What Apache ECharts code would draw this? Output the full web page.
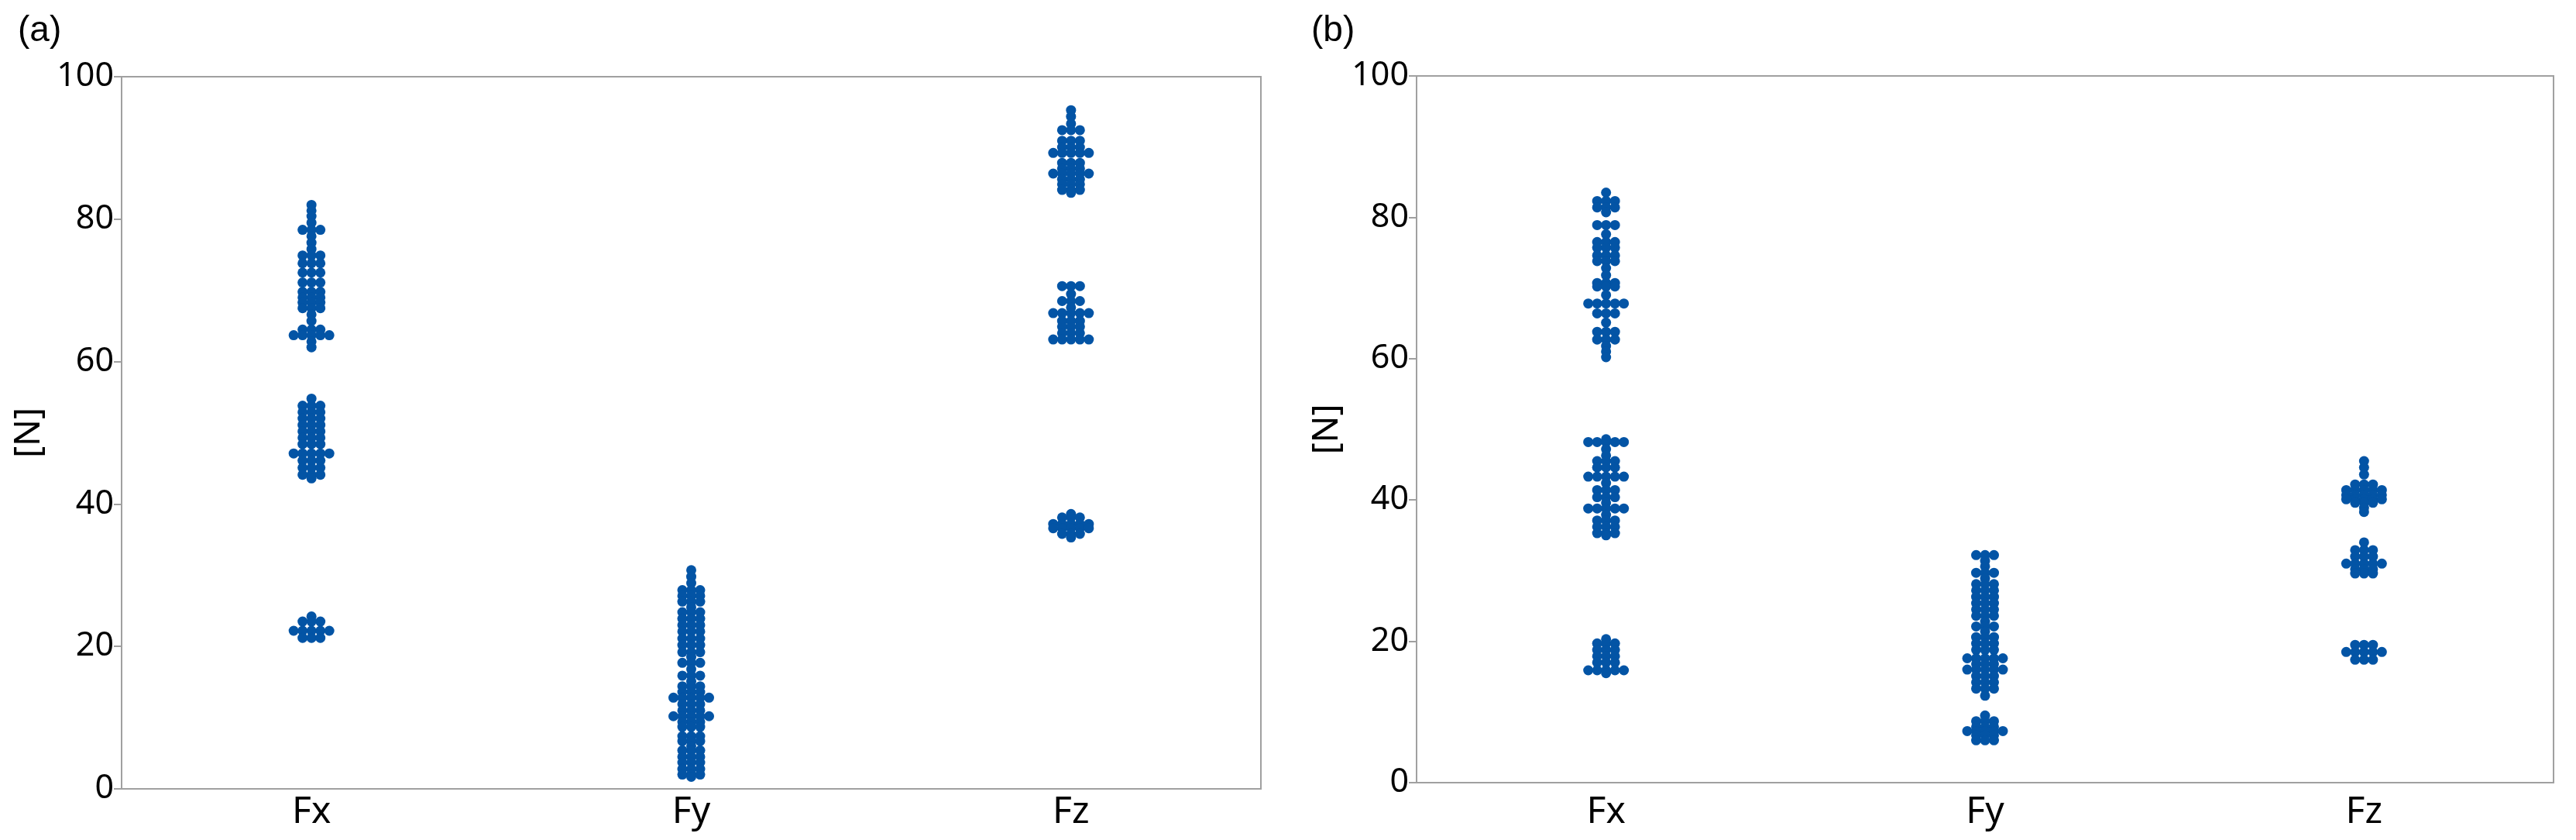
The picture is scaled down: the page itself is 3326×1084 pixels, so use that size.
<!DOCTYPE html>
<html>
<head>
<meta charset="utf-8">
<script src="https://cdn.jsdelivr.net/npm/echarts@6/dist/echarts.min.js"></script>
<style>
  html, body { margin: 0; padding: 0; background: #fff; }
  #main { width: 3326px; height: 1084px; }
</style>
</head>
<body>
<div id="main"></div>
<script>
// categories and tick labels
const categories = ['Fx', 'Fy', 'Fz'];
const yTicks = [0, 20, 40, 60, 80, 100];

// panel (a) measured forces [N], repeated values sit side by side
const fxA = [
  82.0, 81.2, 80.4, 79.5, 78.5, 78.5, 78.5, 77.6, 76.7, 75.8,
  74.9, 74.9, 74.9, 73.8, 73.8, 73.8, 72.5, 72.5, 72.5, 71.1, 71.1, 71.1,
  69.8, 69.8, 69.8, 69.0, 69.0, 69.0, 68.3, 68.3, 68.3, 67.5, 67.5, 67.5,
  66.6, 65.7, 64.5, 64.5, 64.5, 63.7, 63.7, 63.7, 63.7, 63.7, 62.8, 62.0,
  54.8, 53.8, 53.8, 53.8, 52.9, 52.9, 52.9, 52.0, 52.0, 52.0, 51.1, 51.1, 51.1,
  50.2, 50.2, 50.2, 49.3, 49.3, 49.3, 48.4, 48.4, 48.4, 47.1, 47.1, 47.1, 47.1, 47.1,
  46.1, 46.1, 46.1, 45.1, 45.1, 45.1, 44.1, 44.1, 44.1, 43.6,
  24.2, 23.5, 23.5, 23.5, 22.2, 22.2, 22.2, 22.2, 22.2, 21.2, 21.2, 21.2
];
const fyA = [
  30.7, 29.8, 28.9, 27.9, 27.9, 27.9, 27.1, 27.1, 27.1, 26.3, 26.3, 26.3, 25.5,
  24.8, 24.8, 24.8, 23.9, 23.9, 23.9, 23.0, 23.0, 23.0, 22.1, 22.1, 22.1,
  21.1, 21.1, 21.1, 20.2, 20.2, 20.2, 19.2, 19.2, 19.2, 18.5, 17.7, 17.7, 17.7,
  16.8, 15.9, 15.9, 15.9, 15.1, 14.4, 14.4, 14.4, 13.6, 13.6, 13.6,
  12.8, 12.8, 12.8, 12.8, 12.8, 11.9, 11.9, 11.9, 11.0, 11.0, 11.0,
  10.2, 10.2, 10.2, 10.2, 10.2, 9.4, 9.4, 9.4, 8.7, 8.7, 8.7,
  7.4, 7.4, 7.4, 6.7, 6.7, 6.7, 6.0, 5.4, 5.4, 5.4, 4.5, 4.5, 4.5,
  3.7, 3.7, 3.7, 2.8, 2.8, 2.8, 2.0, 2.0, 2.0, 1.7
];
const fzA = [
  95.3, 94.4, 93.4, 92.5, 92.5, 92.5, 91.0, 91.0, 91.0, 90.1, 90.1, 90.1,
  89.3, 89.3, 89.3, 89.3, 89.3, 87.9, 87.9, 87.9, 87.1, 87.1, 87.1,
  86.4, 86.4, 86.4, 86.4, 86.4, 85.6, 85.6, 85.6, 84.9, 84.9, 84.9, 84.1, 84.1, 84.1, 83.7,
  70.6, 70.6, 70.6, 69.5, 68.5, 68.5, 68.5, 67.6, 66.8, 66.8, 66.8, 66.8, 66.8,
  65.7, 65.7, 65.7, 64.9, 64.9, 64.9, 64.0, 64.0, 64.0, 63.1, 63.1, 63.1, 63.1, 63.1,
  38.6, 38.1, 38.1, 38.1, 37.2, 37.2, 37.2, 37.2, 37.2, 36.6, 36.6, 36.6, 36.6, 36.6,
  35.8, 35.8, 35.8, 35.3
];

// panel (b)
const fxB = [
  83.5, 82.3, 82.3, 82.3, 81.4, 81.4, 81.4, 80.7, 78.9, 78.9, 78.9, 77.6,
  76.5, 76.5, 76.5, 75.7, 75.7, 75.7, 74.6, 74.6, 74.6, 73.8, 73.8, 73.8, 72.8, 71.8,
  70.7, 70.7, 70.7, 70.2, 70.2, 70.2, 69.0, 67.8, 67.8, 67.8, 67.8, 67.8,
  66.4, 66.4, 66.4, 65.1, 63.8, 63.8, 63.8, 62.7, 62.7, 62.7, 61.8, 61.0, 60.2,
  48.6, 48.2, 48.2, 48.2, 48.2, 48.2, 47.2, 46.3, 45.5, 45.5, 45.5, 44.6, 44.6, 44.6,
  43.3, 43.3, 43.3, 43.3, 43.3, 42.4, 41.4, 41.4, 41.4, 40.4, 40.4, 40.4, 39.6,
  38.8, 38.8, 38.8, 38.8, 38.8, 37.9, 37.1, 37.1, 37.1, 36.2, 36.2, 36.2, 35.3, 35.3, 35.3, 35.0,
  20.3, 19.7, 19.7, 19.7, 18.8, 18.8, 18.8, 17.9, 17.9, 17.9, 17.0, 17.0, 17.0,
  15.9, 15.9, 15.9, 15.9, 15.9, 15.5
];
const fyB = [
  32.2, 32.2, 32.2, 31.4, 30.6, 29.7, 29.7, 29.7, 28.9, 28.1, 28.1, 28.1,
  27.2, 27.2, 27.2, 26.3, 26.3, 26.3, 25.4, 25.4, 25.4, 24.5, 24.5, 24.5, 23.6, 23.6, 23.6,
  22.8, 22.1, 22.1, 22.1, 21.4, 20.6, 20.6, 20.6, 19.7, 19.7, 19.7, 18.8, 18.8, 18.8,
  17.6, 17.6, 17.6, 17.6, 17.6, 16.8, 16.8, 16.8, 16.0, 16.0, 16.0, 16.0, 16.0,
  15.1, 15.1, 15.1, 14.2, 14.2, 14.2, 13.3, 13.3, 13.3, 12.3,
  9.5, 8.7, 8.7, 8.7, 7.9, 7.9, 7.9, 7.3, 7.3, 7.3, 7.3, 7.3, 6.7, 6.7, 6.7, 6.0, 6.0, 6.0
];
const fzB = [
  45.5, 44.6, 43.6, 42.2, 42.2, 42.2, 41.4, 41.4, 41.4, 41.4, 41.4,
  40.7, 40.7, 40.7, 40.7, 40.7, 40.1, 40.1, 40.1, 40.1, 40.1, 39.6, 39.6, 39.6, 38.9, 38.3,
  34.0, 32.9, 32.9, 32.9, 32.0, 32.0, 32.0, 31.0, 31.0, 31.0, 31.0, 31.0,
  30.2, 30.2, 30.2, 29.6, 29.6, 29.6,
  19.5, 19.5, 19.5, 18.5, 18.5, 18.5, 18.5, 18.5, 17.4, 17.4, 17.4
];

const DOT = '#0354a5';
const AXIS = '#a0a0a0';
const STEP = 11.5; // sideways spacing of tied points, px

// tied values go into a row: centre first, then symmetric columns
function swarm(vals, cat) {
  let counts = {};
  let order = [];
  vals.forEach(v => {
    if (!(v in counts)) { counts[v] = 0; order.push(v); }
    counts[v]++;
  });
  let out = [];
  order.forEach(v => {
    let n = counts[v];
    let cols = [];
    if (n % 2) cols.push(0);
    for (let i = 1; cols.length < n; i++) cols.push(i, -i);
    cols.forEach(c => out.push({ value: [cat, v], symbolOffset: [c * STEP, 0] }));
  });
  return out;
}

function xAxisOf(idx, margin) {
  return {
    gridIndex: idx,
    type: 'category',
    data: categories,
    axisLine: { lineStyle: { color: AXIS, width: 2 } },
    axisTick: { alignWithLabel: true, length: 10, lineStyle: { color: AXIS, width: 2 } },
    axisLabel: { margin: margin, color: '#000', fontSize: 48, fontFamily: 'Noto Sans' }
  };
}

function yAxisOf(idx, gap) {
  return {
    gridIndex: idx,
    type: 'value',
    min: yTicks[0],
    max: yTicks[yTicks.length - 1],
    interval: yTicks[1] - yTicks[0],
    name: '[N]',
    nameLocation: 'middle',
    nameGap: gap,
    nameTextStyle: { color: '#000', fontSize: 46, fontFamily: 'Noto Sans' },
    axisLine: { show: true, lineStyle: { color: AXIS, width: 2 } },
    axisTick: { show: true, length: 10, lineStyle: { color: AXIS, width: 2 } },
    axisLabel: { margin: 10, color: '#000', fontSize: 43, fontFamily: 'Noto Sans' },
    splitLine: { show: false }
  };
}

function seriesOf(idx, list) {
  let data = [];
  list.forEach((vals, c) => { data = data.concat(swarm(vals, c)); });
  return {
    type: 'scatter',
    xAxisIndex: idx,
    yAxisIndex: idx,
    symbol: 'circle',
    symbolSize: 13,
    itemStyle: { color: DOT, opacity: 1 },
    emphasis: { disabled: true },
    silent: true,
    animation: false,
    data: data
  };
}

const chart = echarts.init(document.getElementById('main'));
chart.setOption({
  animation: false,
  title: [
    { text: '(a)', left: 18, top: 12, textStyle: { fontSize: 46, fontWeight: 'normal', color: '#000', fontFamily: 'Liberation Sans' } },
    { text: '(b)', left: 1688, top: 12, textStyle: { fontSize: 46, fontWeight: 'normal', color: '#000', fontFamily: 'Liberation Sans' } }
  ],
  grid: [
    { left: 157, top: 99, width: 1471, height: 919, show: true, borderColor: AXIS, borderWidth: 2 },
    { left: 1829, top: 98, width: 1468, height: 912, show: true, borderColor: AXIS, borderWidth: 2 }
  ],
  xAxis: [xAxisOf(0, 6), xAxisOf(1, 14)],
  yAxis: [yAxisOf(0, 96), yAxisOf(1, 92)],
  series: [seriesOf(0, [fxA, fyA, fzA]), seriesOf(1, [fxB, fyB, fzB])]
});
</script>
</body>
</html>
